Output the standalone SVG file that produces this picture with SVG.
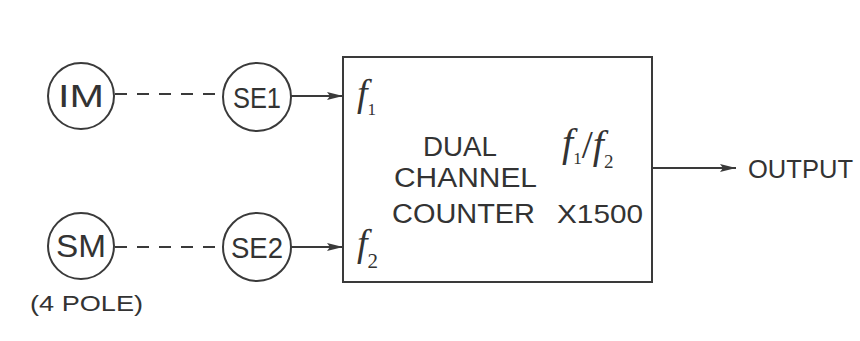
<svg xmlns="http://www.w3.org/2000/svg" width="860" height="341" viewBox="0 0 860 341">
<defs>
<marker id="arr" viewBox="0 0 16 10" refX="16" refY="5" markerWidth="16" markerHeight="10" markerUnits="userSpaceOnUse" orient="auto">
<path d="M0,1 L16,5 L0,9 L3,5 Z" fill="#3a3a3a"/>
</marker>
<style>
.c{fill:#fff;stroke:#3a3a3a;stroke-width:2}
.l{stroke:#3a3a3a;stroke-width:2;fill:none}
.d{stroke:#3a3a3a;stroke-width:2;fill:none;stroke-dasharray:12 10}
.t{font-family:"Liberation Sans",Arial,sans-serif;fill:#333;font-weight:normal}
.f{font-family:"Liberation Serif","Times New Roman",serif;font-style:italic;fill:#333}
</style>
</defs>
<rect width="860" height="341" fill="#fff"/>
<g id="connectors">
<line class="d" x1="115" y1="94" x2="223" y2="94"/>
<line class="d" x1="115" y1="247" x2="223" y2="247"/>
<line class="l" x1="291" y1="96" x2="343" y2="96" marker-end="url(#arr)"/>
<line class="l" x1="291" y1="247" x2="343" y2="247" marker-end="url(#arr)"/>
<line class="l" x1="652" y1="168" x2="736" y2="168" marker-end="url(#arr)"/>
</g>
<g id="IM">
<circle class="c" cx="81" cy="96" r="33"/>
<text class="t" x="81" y="107" font-size="31" text-anchor="middle" textLength="46" lengthAdjust="spacingAndGlyphs">IM</text>
</g>
<g id="SE1">
<circle class="c" cx="257" cy="97" r="34"/>
<text class="t" x="257" y="108" font-size="30" text-anchor="middle" textLength="48" lengthAdjust="spacingAndGlyphs">SE1</text>
</g>
<g id="SM">
<circle class="c" cx="81" cy="246" r="33"/>
<text class="t" x="81" y="257" font-size="31" text-anchor="middle" textLength="50" lengthAdjust="spacingAndGlyphs">SM</text>
<text class="t" x="30" y="311" font-size="22" textLength="113" lengthAdjust="spacingAndGlyphs">(4 POLE)</text>
</g>
<g id="SE2">
<circle class="c" cx="257" cy="247" r="34"/>
<text class="t" x="257" y="258" font-size="30" text-anchor="middle" textLength="52" lengthAdjust="spacingAndGlyphs">SE2</text>
</g>
<g id="counter">
<rect x="343" y="57" width="309" height="225" fill="#fff" stroke="#3a3a3a" stroke-width="2"/>
<text class="f" x="357" y="106" font-size="38">f<tspan font-size="17" font-style="normal" dy="9">1</tspan></text>
<text class="f" x="357" y="256" font-size="38">f<tspan font-size="21" font-style="normal" dy="12">2</tspan></text>
<text class="t" x="423" y="156" font-size="27" textLength="74" lengthAdjust="spacingAndGlyphs">DUAL</text>
<text class="t" x="394" y="187" font-size="27" textLength="143" lengthAdjust="spacingAndGlyphs">CHANNEL</text>
<text class="t" x="392" y="223" font-size="27" textLength="143" lengthAdjust="spacingAndGlyphs">COUNTER</text>
<text class="t" x="557" y="223" font-size="26" textLength="86" lengthAdjust="spacingAndGlyphs">X1500</text>
<text class="f" x="562" y="156" font-size="40">f<tspan font-size="17" font-style="normal" dy="8">1</tspan><tspan dy="-6" font-style="normal" font-size="40">/</tspan>f<tspan font-size="19" font-style="normal" dy="10">2</tspan></text>
</g>
<g id="output">
<text class="t" x="748" y="178" font-size="25" textLength="105" lengthAdjust="spacingAndGlyphs">OUTPUT</text>
</g>
</svg>
